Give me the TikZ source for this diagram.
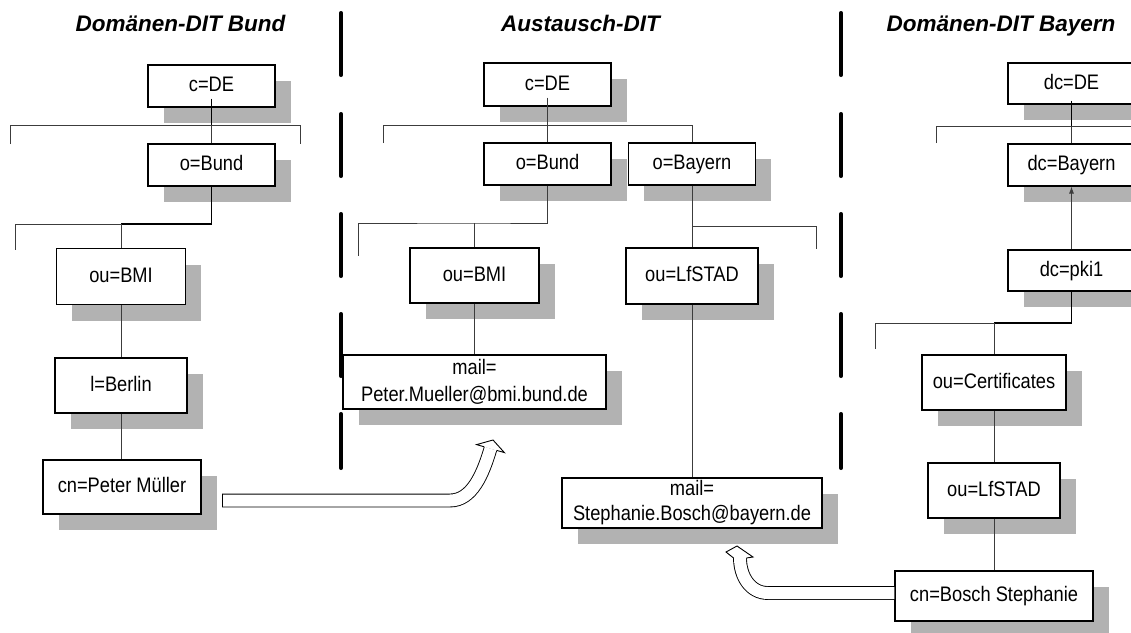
\documentclass[tikz,border=0pt]{standalone}
\usepackage{fontspec}
\setmainfont{Liberation Sans}[FakeStretch=0.87]
\newfontfamily\titlefont{Liberation Sans}
\usetikzlibrary{shadows,arrows.meta,calc}
\definecolor{shadowgray}{RGB}{178,178,178}
\definecolor{linegray}{RGB}{60,60,60}
\begin{document}
\begin{tikzpicture}[x=1pt,y=-1pt,
  dbox/.style={draw=black, line width=1.1pt, fill=white, inner sep=0pt,
    font=\fontsize{21}{25}\selectfont, align=center,
    drop shadow={shadow xshift=15.5pt, shadow yshift=-16pt, opacity=1, fill=shadowgray}},
  sbox/.style={dbox, text height=15pt, text depth=4pt},
  ttl/.style={font=\titlefont\bfseries\itshape\fontsize{22.5}{26}\selectfont, anchor=base},
  thinline/.style={draw=linegray, line width=0.8pt},
  thickline/.style={draw=black, line width=1.8pt},
  sepline/.style={draw=black, line width=3.5pt, line cap=round},
  hollow/.style={draw=black, line width=0.9pt, double=white, double distance=12pt},
  headline/.style={draw=black, fill=white, line width=0.9pt, line join=miter},
]
\useasboundingbox (0,0) rectangle (1131,632);
\clip (0,0) rectangle (1131,632);

% titles
\node[ttl] (t1) at (180.5,31.5) {Domänen-DIT Bund};
\node[ttl] (t2) at (580.5,31.5) {Austausch-DIT};
\node[ttl] (t3) at (1001,31.5) {Domänen-DIT Bayern};

% separators
\foreach \a/\b in {11/77,112/178,212/278,312/378,412/470}{
  \draw[sepline] (341,\a+1.75) -- (341,\b-1.75);
  \draw[sepline] (841,\a+1.75) -- (841,\b-1.75);
}

% left tree
\node[sbox, minimum width=127pt, minimum height=42pt] (L1) at (211.5,86) {c=DE};
\node[sbox, minimum width=127pt, minimum height=42pt] (L2) at (211.5,165) {o=Bund};
\node[sbox, minimum width=129pt, minimum height=56pt] (L3) at (121,276.5) {ou=BMI};
\node[sbox, minimum width=132pt, minimum height=55pt] (L4) at (121,385.5) {l=Berlin};
\node[sbox, minimum width=158pt, minimum height=54pt] (L5) at (122,487) {cn=Peter Müller};

% middle tree
\node[sbox, minimum width=127pt, minimum height=43pt] (M1) at (547.5,84.5) {c=DE};
\node[sbox, minimum width=127pt, minimum height=42pt] (M2) at (547.5,164) {o=Bund};
\node[sbox, minimum width=127pt, minimum height=42pt] (M3) at (692,164) {o=Bayern};
\node[sbox, minimum width=129pt, minimum height=55pt] (M4) at (474.5,275.5) {ou=BMI};
\node[sbox, minimum width=132pt, minimum height=56pt] (M5) at (692,276) {ou=LfSTAD};
\node[dbox, minimum width=263pt, minimum height=54pt, font=\fontsize{21}{27}\selectfont] (M6) at (474.5,382) {mail=\\Peter.Mueller@bmi.bund.de};
\node[dbox, minimum width=260pt, minimum height=50pt, font=\fontsize{21}{25}\selectfont] (M7) at (692,503) {mail=\\Stephanie.Bosch@bayern.de};

% right tree
\node[sbox, minimum width=127pt, minimum height=41pt] (R1) at (1071.5,83.5) {dc=DE};
\node[sbox, minimum width=127pt, minimum height=42pt] (R2) at (1071.5,165) {dc=Bayern};
\node[sbox, minimum width=127pt, minimum height=41pt] (R3) at (1071.5,270.5) {dc=pki1};
\node[sbox, minimum width=144pt, minimum height=55pt] (R4) at (994,382.5) {ou=Certificates};
\node[sbox, minimum width=132pt, minimum height=55pt] (R5) at (994,490.5) {ou=LfSTAD};
\node[sbox, minimum width=198pt, minimum height=50pt] (R6) at (994,596) {cn=Bosch Stephanie};

% left tree connectors
\coordinate (bA) at (211.5,125);
\coordinate (bAl) at (10,144);
\coordinate (bAr) at (300,144);
\draw[thickline] ([yshift=9pt]L1.south) -- (bA);
\draw[thinline] (bAl) -- (bAl |- bA) -- (bAr |- bA) -- (bAr);
\draw[thinline] (bA) -- (L2.north);
\coordinate (bB) at (121,224);
\coordinate (bBl) at (15,250);
\draw[thinline] (bB) -| (bBl);
\draw[thickline] (L2.south) |- (bB);
\draw[thinline] (bB) -- (L3.north);
\draw[thinline] (L3.south) -- (L4.north);
\draw[thinline] (L4.south) -- (L4.south |- L5.north);

% middle tree connectors
\coordinate (cA) at (547.5,125);
\coordinate (cAl) at (383,143);
\draw[thinline] ([yshift=9pt]M1.south) -- (cA);
\draw[thinline] (cAl) -- (cAl |- cA) -- (cA -| M3.north) -- (M3.north);
\draw[thinline] (cA) -- (M2.north);
\coordinate (cB) at (474.5,223);
\coordinate (cBl) at (358,256);
\draw[thinline] (M2.south) |- (cB) -| (cBl);
\draw[thinline] (cB) -- (M4.north);
\coordinate (cC) at (692,226);
\coordinate (cCr) at (816,249);
\draw[thinline] (M3.south) -- (M5.north);
\draw[thinline] (cC) -| (cCr);
\draw[thinline] (M4.south) -- (M6.north);
\draw[thinline] (M5.south) -- (M7.north);

% right tree connectors
\coordinate (dA) at (1071.5,126);
\coordinate (dAl) at (936,143);
\coordinate (dAr) at (1140,126);
\draw[thinline] (dAl) |- (dAr);
\draw[thickline] ([yshift=4pt]R1.south) -- (dA);
\draw[thinline] (dA) -- (R2.north);
\draw[thinline, -{Latex[length=7pt,width=5pt]}] (R3.north) -- (R2.south);
\coordinate (dB) at (994,323);
\coordinate (dBl) at (875,349);
\draw[thinline] (dB) -| (dBl);
\draw[thickline] (R3.south) |- (dB);
\draw[thinline] (dB) -- (R4.north);
\draw[thinline] (R4.south) -- (R5.north);
\draw[thinline] (R5.south) -- (R6.north);

% hollow arrow 1: cn=Peter Müller -> mail Peter
\coordinate (a1s) at (222,500.5);
\coordinate (a1e) at (490.5,448.6);
\draw[hollow] (a1s) -- (450,500.5) .. controls (472,500.5) and (483,474) .. (a1e);
\draw[line width=0.9pt] ([yshift=6.9pt]a1s) -- ([yshift=-6.9pt]a1s);
\filldraw[headline] (484.3,446.8) -- (476.6,444.6) -- (493,440) -- (504.4,452.6) -- (496.7,450.4);

% hollow arrow 2: cn=Bosch Stephanie -> mail Stephanie
\coordinate (a2s) at ([yshift=3pt]R6.west);
\coordinate (a2e) at (740,558);
\draw[hollow] (a2s) -- (768,593) .. controls (750,593) and (740,576) .. (a2e);
\filldraw[headline] (733.55,558) -- (726,552) -- (737,546) -- (753,557) -- (746.45,558);
\end{tikzpicture}
\end{document}
